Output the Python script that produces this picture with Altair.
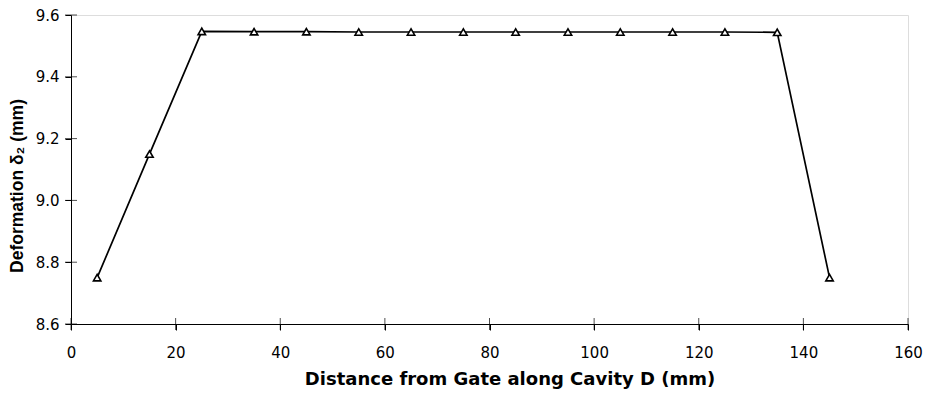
import altair as alt
import pandas as pd

distance = [5, 15, 25, 35, 45, 55, 65, 75, 85, 95, 105, 115, 125, 135, 145]
deformation = [8.75, 9.15, 9.547, 9.546, 9.546, 9.545, 9.545, 9.545, 9.545, 9.545, 9.545, 9.545, 9.545, 9.544, 8.75]
x_ticks = [0, 20, 40, 60, 80, 100, 120, 140, 160]
y_ticks = [8.6, 8.8, 9.0, 9.2, 9.4, 9.6]

df = pd.DataFrame({"d": distance, "v": deformation})
xt = pd.DataFrame({"t": x_ticks})
yt = pd.DataFrame({"t": y_ticks})

W, H = 837, 309
LFONT = "DejaVu Sans"

xscale = alt.Scale(domain=[0, 160], nice=False, zero=False)
yscale = alt.Scale(domain=[8.6, 9.6], nice=False, zero=False)

xaxis = alt.Axis(values=x_ticks, title="Distance from Gate along Cavity D (mm)",
                 grid=False, domainColor="black", domainWidth=1, tickColor="black",
                 tickSize=6, labelFont=LFONT, labelFontSize=15, labelColor="black",
                 labelPadding=15, titleFont="DejaVu Sans", titleFontSize=18, titleFontWeight="bold",
                 titleColor="black", titlePadding=10, labelFlush=False,
                 titleX=W / 2 + 20, titleAnchor="middle", titleAlign="center")
yaxis = alt.Axis(values=y_ticks, title="Deformation δ₂ (mm)", format=".1f",
                 grid=False, domainColor="black", domainWidth=1, tickColor="black",
                 tickSize=6, labelFont=LFONT, labelFontSize=15, labelColor="black",
                 labelPadding=6, titleFont="Liberation Sans", titleFontSize=17.5, titleFontWeight="bold",
                 titleColor="black", titlePadding=9, labelFlush=False,
                 titleY=H / 2 + 16, titleAnchor="middle", titleAlign="center")

line = alt.Chart(df).mark_line(color="black", strokeWidth=1.7).encode(
    x=alt.X("d:Q", scale=xscale, axis=xaxis),
    y=alt.Y("v:Q", scale=yscale, axis=yaxis),
)
pts = alt.Chart(df).mark_point(shape="triangle-up", filled=True, fill="white",
                               stroke="black", strokeWidth=1.6, size=55, opacity=1).encode(
    x=alt.X("d:Q", scale=xscale),
    y=alt.Y("v:Q", scale=yscale),
)
xticks_in = alt.Chart(xt).mark_tick(color="black", size=12, thickness=1).encode(
    x=alt.X("t:Q", scale=xscale),
    y=alt.value(H),
)
yticks_in = alt.Chart(yt).mark_tick(color="black", size=12, thickness=1).encode(
    y=alt.Y("t:Q", scale=yscale),
    x=alt.value(0),
)

chart = alt.layer(line, xticks_in, yticks_in, pts).properties(
    width=W, height=H,
    autosize=alt.AutoSizeParams(type="none"),
    padding={"left": 63, "top": 7, "right": 15, "bottom": 75},
).configure_view(stroke=None).configure(background="white")

chart.save("out.html", embed_options={"renderer": "svg", "actions": False})
